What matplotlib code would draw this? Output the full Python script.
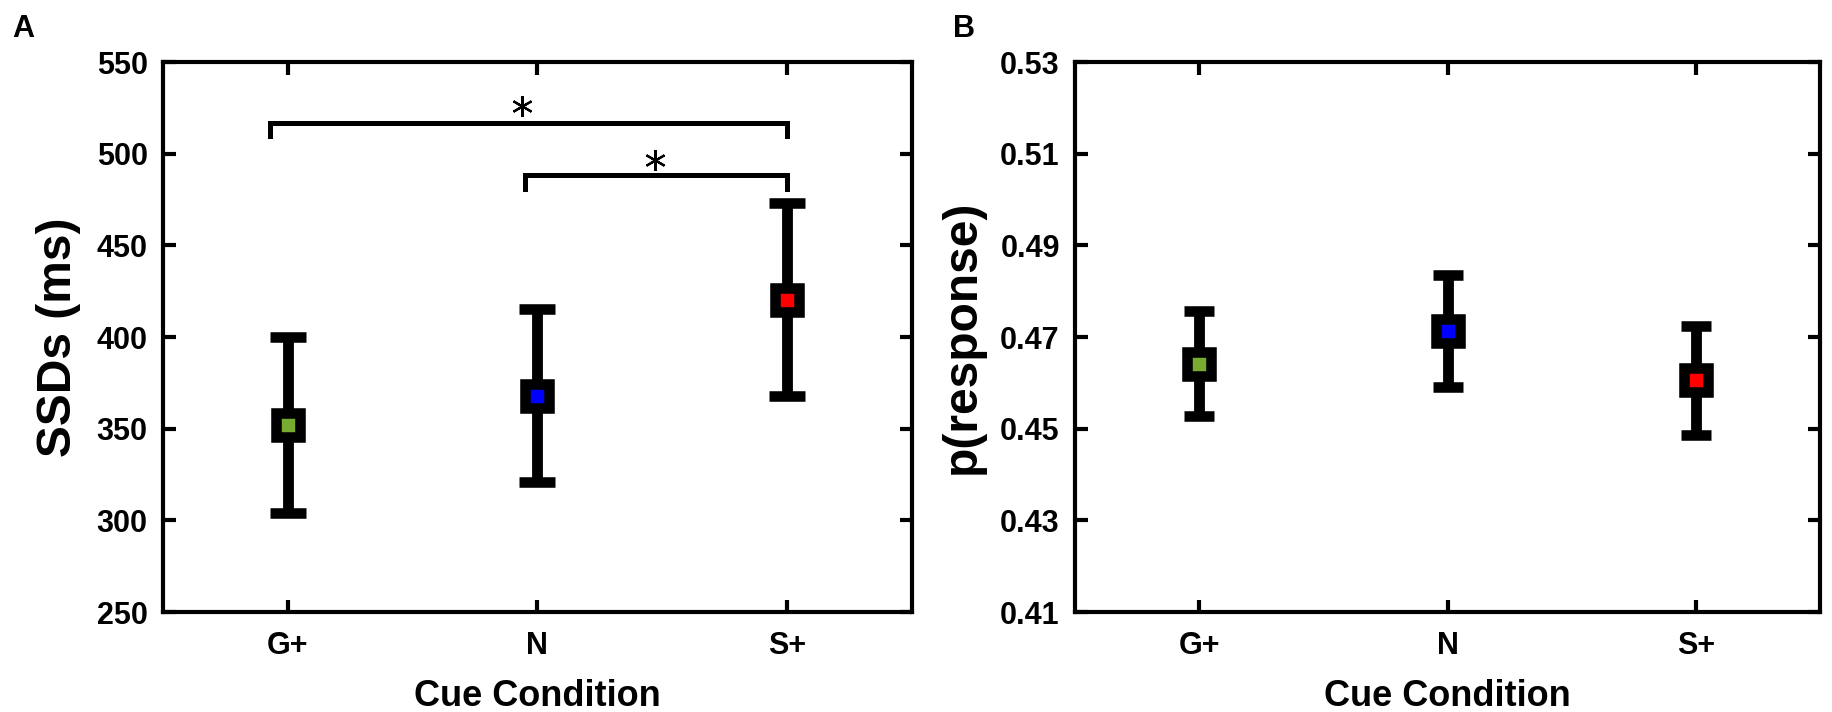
import matplotlib.pyplot as plt
import numpy as np
from matplotlib.ticker import FormatStrFormatter

plt.rcParams['font.family'] = ['Liberation Sans', 'DejaVu Sans']
plt.rcParams['font.weight'] = 'bold'

conds = ['G+', 'N', 'S+']
colors = ['#77AC30', '#0000FF', '#FF0000']

ssd_mean = [352.2, 368.1, 420.4]
ssd_err = [48.0, 47.0, 52.5]

presp_mean = [0.4642, 0.4713, 0.4606]
presp_err = [0.0114, 0.0122, 0.0119]

# significance brackets: (x start, x end, line y, tick y, star x, star y)
brackets = [(0.93, 3.0, 516.8, 509.4, 1.94, 526.0),
            (1.95, 3.0, 488.3, 480.6, 2.47, 496.6)]

fig = plt.figure(figsize=(18.33, 7.12), dpi=100)
axA = fig.add_axes([0.0889, 0.1404, 0.4086, 0.7725])
axB = fig.add_axes([0.5865, 0.1404, 0.4064, 0.7725])

x = np.arange(1, len(conds) + 1)


def draw_points(ax, means, errs, cap):
    for i in range(len(means)):
        ax.errorbar(x[i], means[i], yerr=errs[i], fmt='s', ms=17.6, mfc=colors[i], mec='k', mew=7.6,
                    ecolor='k', elinewidth=7.8, capsize=cap, capthick=7.7)


draw_points(axA, ssd_mean, ssd_err, 13)
draw_points(axB, presp_mean, presp_err, 10.8)

for x0, x1, yl, yt, sx, sy in brackets:
    axA.plot([x0, x0, x1, x1], [yt, yl, yl, yt], color='k', lw=3.6, solid_joinstyle='miter')
    axA.plot(sx, sy, marker=(6, 2, 0), ms=15, mew=1.6, color='k')

for ax in (axA, axB):
    ax.set_xlim(0.5, 3.5)
    ax.set_xticks(x)
    ax.set_xticklabels(conds)
    ax.tick_params(direction='in', length=9, width=3, top=True, right=True, labelsize=22, pad=11)
    ax.tick_params(axis='x', pad=13.5)
    for s in ax.spines.values():
        s.set_linewidth(3)
    ax.set_xlabel('Cue Condition', fontsize=26, fontweight='bold', labelpad=13)

axA.set_ylim(250, 550)
axA.set_yticks(np.arange(250, 551, 50))
axA.set_ylabel('SSDs (ms)', fontsize=34.5, fontweight='bold', labelpad=11)

axB.set_ylim(0.41, 0.53)
axB.set_yticks(np.arange(0.41, 0.5301, 0.02))
axB.yaxis.set_major_formatter(FormatStrFormatter('%.2f'))
axB.set_ylabel('p(response)', fontsize=34.5, fontweight='bold', labelpad=11)

fig.text(0.0065, 0.98, 'A', fontsize=22, fontweight='bold', va='top')
fig.text(0.52, 0.98, 'B', fontsize=22, fontweight='bold', va='top')

fig.savefig('out.png', dpi=100)
